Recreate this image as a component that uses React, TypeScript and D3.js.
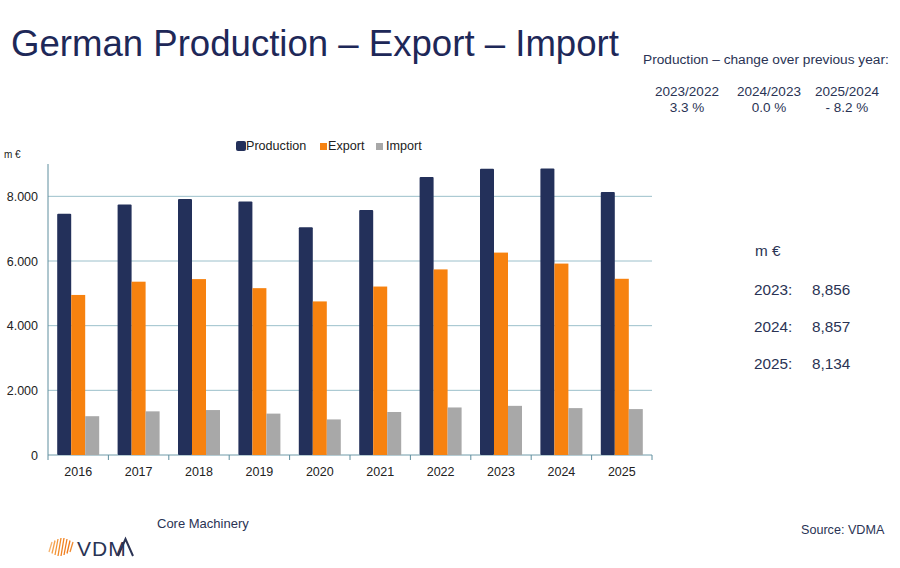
import React from "react";
import * as d3 from "d3";

// Core machinery: German production, export and import, m €
const years = ["2016", "2017", "2018", "2019", "2020", "2021", "2022", "2023", "2024", "2025"];
const production = [7460, 7750, 7920, 7840, 7040, 7580, 8600, 8856, 8857, 8134];
const exportValues = [4950, 5360, 5440, 5160, 4750, 5210, 5740, 6260, 5920, 5450];
const importValues = [1200, 1350, 1390, 1280, 1100, 1330, 1470, 1520, 1450, 1420];
const seriesNames = ["Production", "Export", "Import"];
const yTicks = [0, 2000, 4000, 6000, 8000];

const changePeriods = ["2023/2022", "2024/2023", "2025/2024"];
const changeValues = ["3.3 %", "0.0 %", "- 8.2 %"];
const recentYears = ["2023", "2024", "2025"];
const recentValues = [8856, 8857, 8134];

const W = 900;
const H = 568;
const FONT = "'Liberation Sans', Arial, sans-serif";
const TEXT = "#2a3354";
const COLORS = ["#23305a", "#f7820f", "#a8a8a8"];

export default function App() {
  const plot = { left: 48, right: 652, top: 164, bottom: 455 };
  const x = d3.scaleBand<string>().domain(years).range([plot.left, plot.right]).paddingInner(0).paddingOuter(0);
  const y = d3.scaleLinear().domain([0, 9000]).range([plot.bottom, plot.top]);
  const groupWidth = 42;
  const inner = d3.scaleBand<string>().domain(seriesNames).range([0, groupWidth]).padding(0);
  const series = [production, exportValues, importValues];
  const fmtTick = (v: number) => (v === 0 ? "0" : d3.format(",")(v).replace(",", "."));
  const fmtValue = d3.format(",");

  const legendItems = [
    { name: "Production", sx: 236, sw: 10, tx: 246 },
    { name: "Export", sx: 320, sw: 7, tx: 328 },
    { name: "Import", sx: 376, sw: 7, tx: 386 },
  ];

  // VDMA logo strokes
  const logoStrokes = [
    { x: 49, h: 10, c: "#f6b26b" },
    { x: 52, h: 13, c: "#f5a04a" },
    { x: 55, h: 16, c: "#f39436" },
    { x: 58, h: 18, c: "#f28a26" },
    { x: 61, h: 18, c: "#f18220" },
    { x: 64, h: 16, c: "#f07c1c" },
    { x: 67, h: 13, c: "#ef7a1a" },
    { x: 70, h: 10, c: "#f08a30" },
  ];

  return (
    <svg width={W} height={H} style={{ position: "absolute", left: 0, top: 0, background: "#fff" }} fontFamily={FONT}>
      <rect width={W} height={H} fill="#fff" />
      <text x={11} y={56} fontSize={36.6} fill="#1e2858">German Production – Export – Import</text>

      <text x={643} y={64} fontSize={13.7} fill={TEXT}>Production – change over previous year:</text>
      {changePeriods.map((p, i) => {
        const cx = [687, 769, 847][i];
        return (
          <g key={p}>
            <text x={cx} y={96} fontSize={13.5} fill={TEXT} textAnchor="middle">{p}</text>
            <text x={cx} y={112} fontSize={13.5} fill={TEXT} textAnchor="middle">{changeValues[i]}</text>
          </g>
        );
      })}

      {/* gridlines */}
      {yTicks.map((t) => (
        <line key={t} x1={plot.left} x2={plot.right} y1={y(t)} y2={y(t)} stroke={t === 0 ? "#6f9aa8" : "#9cc0cb"} strokeWidth={1} />
      ))}
      {/* axes */}
      <line x1={plot.left} x2={plot.left} y1={plot.top} y2={plot.bottom + 5} stroke="#5f8e9e" strokeWidth={1} />
      {years.map((yr) => (
        <line key={"tk" + yr} x1={x(yr)! + x.bandwidth()} x2={x(yr)! + x.bandwidth()} y1={plot.bottom} y2={plot.bottom + 5} stroke="#5f8e9e" />
      ))}
      {yTicks.map((t) => (
        <text key={"yl" + t} x={38} y={y(t) + 4.5} fontSize={12.5} fill="#222" textAnchor="end">{fmtTick(t)}</text>
      ))}
      <text x={4} y={158} fontSize={10} fill="#222">m €</text>

      {/* bars */}
      {years.map((yr, yi) => {
        const gx = x(yr)! + (x.bandwidth() - groupWidth) / 2;
        return (
          <g key={"b" + yr}>
            {series.map((s, si) => {
              const v = s[yi];
              return (
                <rect
                  key={si}
                  x={gx + inner(seriesNames[si])!}
                  y={y(v)}
                  width={inner.bandwidth()}
                  height={y(0) - y(v)}
                  fill={COLORS[si]}
                  rx={si === 0 ? 1 : 0}
                />
              );
            })}
          </g>
        );
      })}
      {years.map((yr) => (
        <text key={"xl" + yr} x={x(yr)! + x.bandwidth() / 2} y={476} fontSize={12.5} fill="#222" textAnchor="middle">{yr}</text>
      ))}

      {/* legend */}
      {legendItems.map((l, i) => (
        <g key={l.name}>
          <rect x={l.sx} y={l.sw === 10 ? 141 : 143} width={l.sw} height={l.sw === 10 ? 10 : 7} fill={COLORS[i]} rx={l.sw === 10 ? 2 : 0} />
          <text x={l.tx} y={150} fontSize={12.6} fill="#222">{l.name}</text>
        </g>
      ))}

      {/* key figures */}
      <text x={755} y={256} fontSize={15.3} fill={TEXT}>m €</text>
      {recentYears.map((yr, i) => (
        <g key={"r" + yr}>
          <text x={754} y={295 + i * 37} fontSize={15.3} fill={TEXT}>{yr}:</text>
          <text x={812} y={295 + i * 37} fontSize={15.3} fill={TEXT}>{fmtValue(recentValues[i])}</text>
        </g>
      ))}

      <text x={157} y={528} fontSize={13} fill={TEXT}>Core Machinery</text>
      <text x={801} y={534} fontSize={12.6} fill={TEXT}>Source: VDMA</text>

      {/* logo */}
      {logoStrokes.map((s, i) => (
        <line key={"lg" + i} x1={s.x} y1={547 + s.h / 2} x2={s.x + 3} y2={547 - s.h / 2} stroke={s.c} strokeWidth={1.3} />
      ))}
      <text x={77} y={556} fontSize={21} fill="#2a3354" letterSpacing={1}>VDM</text>
      <path d="M118,556 L125.5,539 L133,556" fill="none" stroke="#2a3354" strokeWidth={2} />
    </svg>
  );
}
